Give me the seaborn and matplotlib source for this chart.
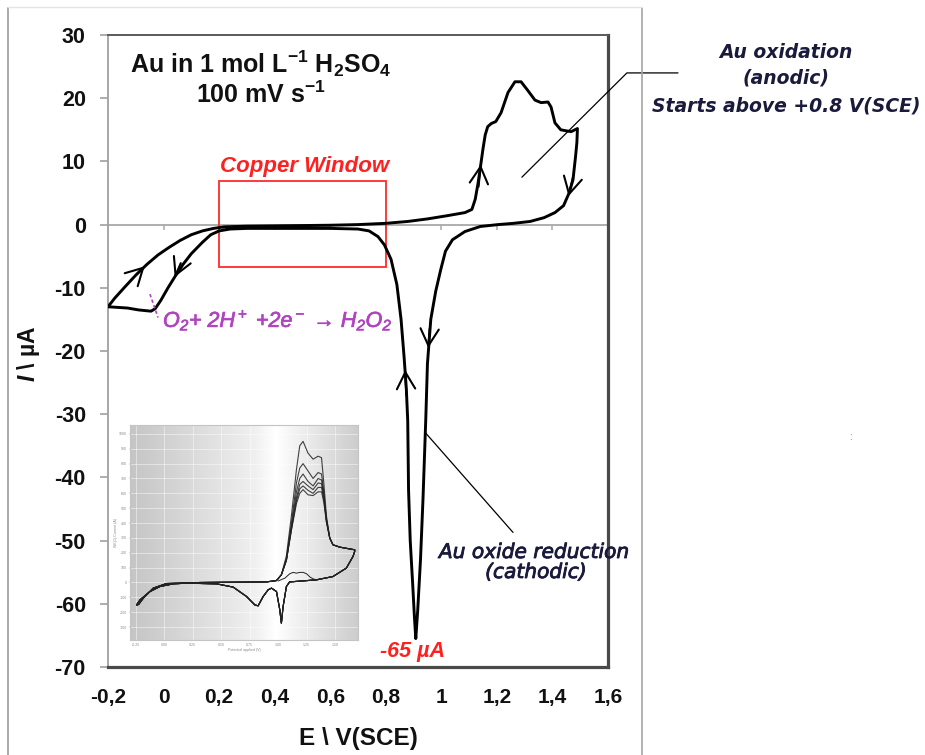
import numpy as np
import pandas as pd
import matplotlib
matplotlib.use("Agg")
import matplotlib.pyplot as plt
import matplotlib.patheffects as pe
import seaborn as sns
from matplotlib.lines import Line2D
from matplotlib.patches import Rectangle

# ---------------- data ----------------
anodic_E = [-0.200, -0.175, -0.140, -0.100, -0.060, -0.020, 0.020, 0.060, 0.100, 0.140,
            0.180, 0.220, 0.300, 0.400, 0.500, 0.600, 0.700, 0.800, 0.880, 0.950,
            1.020, 1.085, 1.110, 1.122, 1.132, 1.142, 1.150, 1.158, 1.167, 1.180,
            1.196, 1.215, 1.240, 1.265, 1.287, 1.310, 1.337, 1.359, 1.384, 1.395,
            1.409, 1.430, 1.467, 1.490]
anodic_I = [-13.0, -11.6, -9.9, -8.0, -6.3, -4.8, -3.6, -2.5, -1.6, -1.0,
            -0.6, -0.35, -0.25, -0.2, -0.15, -0.1, 0.0, 0.2, 0.5, 0.9,
            1.4, 1.9, 2.4, 4.0, 6.5, 9.5, 12.0, 14.2, 15.5, 16.0,
            16.3, 17.7, 20.9, 22.6, 22.6, 21.3, 19.7, 19.3, 19.4, 18.6,
            16.1, 15.0, 14.7, 15.2]

cathodic_E = [1.490, 1.488, 1.483, 1.474, 1.460, 1.440, 1.409, 1.370, 1.320, 1.260,
              1.204, 1.140, 1.085, 1.040, 1.015, 0.998, 0.980, 0.962, 0.950, 0.944,
              0.934, 0.925, 0.915, 0.908, 0.903, 0.897, 0.888, 0.882, 0.879, 0.874,
              0.866, 0.855, 0.840, 0.819, 0.795, 0.772, 0.740, 0.700, 0.600, 0.500,
              0.400, 0.300, 0.240, 0.200, 0.170, 0.140, 0.100, 0.070, 0.040, 0.016,
              -0.010, -0.030, -0.045, -0.090, -0.130, -0.200]
cathodic_I = [15.2, 13.0, 10.7, 7.1, 5.0, 3.0, 1.9, 1.1, 0.5, 0.2,
              0.0, -0.3, -1.1, -2.4, -4.2, -7.1, -10.5, -15.0, -22.0, -30.8,
              -43.4, -53.0, -61.0, -65.5, -62.0, -57.0, -50.0, -42.0, -31.0, -26.0,
              -21.0, -15.0, -9.5, -5.5, -3.2, -1.9, -1.0, -0.7, -0.6, -0.6,
              -0.6, -0.6, -0.7, -1.0, -1.6, -2.8, -4.6, -6.3, -8.3, -10.0,
              -12.0, -13.3, -13.7, -13.5, -13.2, -13.0]

# sweep-direction chevrons: (tail E, tail I) -> (head E, head I)
arrow_tail_E = [-0.100, 0.062, 1.134, 1.474, 0.958, 0.874]
arrow_tail_I = [-8.0, -6.1, 6.0, 7.5, -16.5, -27.0]
arrow_head_E = [-0.068, 0.040, 1.142, 1.458, 0.953, 0.870]
arrow_head_I = [-6.6, -8.3, 9.5, 4.5, -19.5, -23.0]

x_ticks = [-0.2, 0.0, 0.2, 0.4, 0.6, 0.8, 1.0, 1.2, 1.4, 1.6]
x_tick_labels = ["-0,2", "0", "0,2", "0,4", "0,6", "0,8", "1", "1,2", "1,4", "1,6"]
y_ticks = [30, 20, 10, 0, -10, -20, -30, -40, -50, -60, -70]
y_tick_labels = ["30", "20", "10", "0", "-10", "-20", "-30", "-40", "-50", "-60", "-70"]

copper_window_E = [0.2, 0.8]
copper_window_I = [-6.7, 6.9]
o2_leader_E = [-0.049, -0.020]
o2_leader_I = [-11.0, -14.7]
ox_leader_E = [1.290, 1.668, 1.852]
ox_leader_I = [7.5, 24.0, 24.0]
red_leader_E = [0.940, 1.258]
red_leader_I = [-32.8, -48.7]

# inset (photo of a multi-cycle CV)
inset_anodic_E = [-0.242, -0.212, -0.125, -0.037, 0.080, 0.313, 0.605, 0.897, 0.985]
inset_anodic_I = [-15.1, -11.7, -6.1, -2.7, -0.9, 0.0, 0.2, 0.4, 1.3]
inset_peak_E = [1.028, 1.072, 1.116, 1.160, 1.189, 1.218, 1.262, 1.306, 1.350, 1.380,
                1.400, 1.423, 1.452]
inset_cycles_I = [
    [5.2, 18, 45, 76, 92, 95, 87, 83, 85, 84, 67, 45, 30],
    [5.2, 16, 40, 67, 77, 80, 75, 70, 74, 73, 61, 43, 30],
    [5.2, 15, 38, 61, 70, 73, 68, 65, 70, 69, 59, 42, 30],
    [5.2, 15, 36, 57, 66, 68, 65, 62.5, 67, 66.5, 57.5, 42, 30],
    [5.2, 15, 36, 55, 63, 65, 62, 60, 64, 64, 56, 41, 30],
    [5.2, 15, 35, 53, 60, 62.5, 59, 58.5, 61, 61, 54, 40.5, 30],
]
inset_tail_E = [1.480, 1.540, 1.671]
inset_tail_I = [25.4, 23.8, 22.0]
inset_cathodic_E = [1.671, 1.656, 1.598, 1.480, 1.335, 1.189, 1.100, 1.072, 1.043, 1.028,
                    1.014, 0.985, 0.941, 0.912, 0.868, 0.824, 0.795, 0.722, 0.605, 0.459,
                    0.167, 0.021, -0.096, -0.183, -0.225, -0.242]
inset_cathodic_I = [20.9, 17.5, 9.7, 4.0, 1.8, 0.9, 0.4, -2.7, -16.2, -27.4,
                    -18.4, -6.1, -3.8, -4.9, -9.4, -15.7, -15.1, -9.4, -3.1, -0.9,
                    -0.4, -0.7, -3.8, -10.5, -14.8, -15.1]
inset_first_E = [1.00, 1.06, 1.10, 1.13, 1.16, 1.19, 1.22, 1.25, 1.28, 1.31, 1.35]
inset_first_I = [1.0, 3.0, 5.8, 6.8, 6.3, 6.8, 6.8, 5.8, 3.6, 2.3, 1.8]

# ---------------- style ----------------
sns.set_theme(style="white")
plt.rcParams["font.family"] = ["Liberation Sans", "DejaVu Sans"]
plt.rcParams["mathtext.fontset"] = "custom"
plt.rcParams["mathtext.default"] = "regular"
plt.rcParams["mathtext.it"] = "Liberation Sans:italic:bold"
plt.rcParams["axes.unicode_minus"] = False

W, H = 925, 755
fig = plt.figure(figsize=(W / 100, H / 100), dpi=100)
fig.patch.set_facecolor("white")


def fx(px):
    return px / W


def fy(py):
    return 1 - py / H


ax = fig.add_axes([fx(108), fy(667), 500 / W, 632 / H])
ax.set_facecolor("white")

# outer frame of the original picture
fig.add_artist(Line2D([fx(8), fx(8)], [fy(8), 0], color="#9c9c9c", lw=1.2))
fig.add_artist(Line2D([fx(642), fx(642)], [fy(8), 0], color="#a4a4a4", lw=1.2))
fig.add_artist(Line2D([fx(8), fx(642)], [fy(7), fy(7)], color="#e4e4e4", lw=1.0))

# zero line with its ticks
ax.axhline(0, color="#a8a8a8", lw=1.3, zorder=1)
ax.vlines(x_ticks, -0.9, 0, color="#a8a8a8", lw=1.1, zorder=1)

# the voltammogram
cv = pd.DataFrame({
    "E": anodic_E + cathodic_E,
    "I": anodic_I + cathodic_I,
})
sns.lineplot(data=cv, x="E", y="I", sort=False, estimator=None, color="black",
             lw=2.1, ax=ax, zorder=3)

for te, ti, he, hi in zip(arrow_tail_E, arrow_tail_I, arrow_head_E, arrow_head_I):
    ax.annotate("", xy=(he, hi), xytext=(te, ti),
                arrowprops=dict(arrowstyle="->,head_length=0.55,head_width=0.3",
                                lw=1.5, color="black", shrinkA=0, shrinkB=0,
                                mutation_scale=22), zorder=4)

ax.set_xlim(-0.2, 1.6)
ax.set_ylim(-70, 30)
ax.set_xticks(x_ticks, x_tick_labels)
ax.set_yticks(y_ticks, y_tick_labels)
ax.tick_params(axis="x", length=0, pad=15, labelsize=15)
ax.tick_params(axis="y", left=True, length=6, width=1.2, color="#a0a0a0",
               direction="out", pad=10, labelsize=15.5)
for lab in ax.get_xticklabels() + ax.get_yticklabels():
    lab.set_fontweight("bold")
    lab.set_color("#111111")

ax.spines["left"].set_color("#a0a0a0")
ax.spines["left"].set_linewidth(1.3)
ax.spines["top"].set_color("#5a5a5a")
ax.spines["top"].set_linewidth(1.4)
for s in ("right", "bottom"):
    ax.spines[s].set_color("#4a4a4a")
    ax.spines[s].set_linewidth(2.3)

ax.set_xlabel("E \\ V(SCE)", fontsize=17.5, fontweight="bold", color="#111111")
ax.xaxis.set_label_coords(0.5, (667 - 738) / 632)
ax.xaxis.label.set_va("center")
ax.set_ylabel(r"$\mathit{I}$ \ µA", fontsize=16.5, fontweight="bold", color="#111111")
ax.yaxis.set_label_coords((29 - 108) / 500, (667 - 354) / 632)
ax.yaxis.label.set_va("center")

# copper window
ax.add_patch(Rectangle((copper_window_E[0], copper_window_I[0]),
                       copper_window_E[1] - copper_window_E[0],
                       copper_window_I[1] - copper_window_I[0],
                       fill=False, ec="#ff2a2a", lw=1.3, zorder=2))
fig.text(fx(305), fy(172), "Copper Window", color="#ff2020", fontsize=16,
         fontweight="bold", style="italic", ha="center", va="baseline")

# title
fig.text(fx(261), fy(73), "Au in 1 mol L$^{-1}$ H$_2$SO$_4$", fontsize=18,
         fontweight="bold", ha="center", va="baseline", color="#111111")
fig.text(fx(261), fy(103), "100 mV s$^{-1}$", fontsize=18,
         fontweight="bold", ha="center", va="baseline", color="#111111")

# O2 reduction
purple = "#b044c0"
ax.plot(o2_leader_E, o2_leader_I, color=purple, lw=1.2, ls=(0, (2, 1.5)), zorder=4)
fig.text(fx(163), fy(327), "O$_2$+ 2H$^+$ +2e$^-$ → H$_2$O$_2$", color=purple,
         fontsize=15.5, style="italic", ha="left", va="baseline",
         path_effects=[pe.withStroke(linewidth=0.5, foreground=purple)])

# anodic annotation
ax.plot(ox_leader_E, ox_leader_I, color="black", lw=0.9, clip_on=False, zorder=4)
navy = "#1a1a3c"
for txt, yb in (("Au oxidation", 58), ("(anodic)", 84), ("Starts above +0.8 V(SCE)", 111)):
    fig.text(fx(786), fy(yb), txt, color=navy, fontsize=13.5, fontweight="bold",
             style="italic", family="DejaVu Sans", ha="center", va="baseline")

# cathodic annotation
ax.plot(red_leader_E, red_leader_I, color="black", lw=0.9, zorder=4)
thick = [pe.withStroke(linewidth=0.6, foreground=navy)]
fig.text(fx(534), fy(558), "Au oxide reduction", color=navy, fontsize=14.5,
         style="italic", family="DejaVu Sans", ha="center", va="baseline",
         path_effects=thick)
fig.text(fx(536), fy(578), "(cathodic)", color=navy, fontsize=14.5,
         style="italic", family="DejaVu Sans", ha="center", va="baseline",
         path_effects=thick)

fig.text(fx(413), fy(657), "-65 µA", color="#ff2020", fontsize=15.5,
         fontweight="bold", style="italic", ha="center", va="baseline")
fig.text(fx(850), fy(440), ":", color="#b044c0", fontsize=7, ha="center", va="baseline")

# ---------------- inset ----------------
ins = fig.add_axes([fx(130), fy(640), 228 / W, 215 / H])
stops_x = [0.0, 0.55, 0.64, 0.72, 1.0]
stops_v = [0.77, 0.94, 1.0, 0.95, 0.80]
xs = np.linspace(0, 1, 256)
grad = np.tile(np.interp(xs, stops_x, stops_v), (32, 1))
ins.imshow(grad, extent=[0, 1, 0, 1], transform=ins.transAxes, aspect="auto",
           cmap="gray", vmin=0, vmax=1, zorder=0)
inset_ticks_x = [-0.25, 0.0, 0.25, 0.5, 0.75, 1.0, 1.25, 1.5]
inset_ticks_y = [-30, -20, -10, 0, 10, 20, 30, 40, 50, 60, 70, 80, 90, 100]
ins.set_xticks(inset_ticks_x, [f"{v:.2f}" for v in inset_ticks_x])
ins.set_yticks(inset_ticks_y, [f"{v * 10}" for v in inset_ticks_y])
ins.grid(True, color="white", lw=0.6, alpha=0.55)
ins.tick_params(labelsize=2.6, length=1, width=0.3, pad=1, colors="#8a8a8a",
                left=True, bottom=True)
ins.set_ylabel("WE(1).Current (A)", fontsize=2.6, color="#8a8a8a", labelpad=1)
ins.set_xlabel("Potential applied (V)", fontsize=2.6, color="#8a8a8a", labelpad=1)
for s in ins.spines.values():
    s.set_color("#c4c4c4")
    s.set_linewidth(0.8)

for cyc in inset_cycles_I:
    e = inset_anodic_E + inset_peak_E + inset_tail_E + inset_cathodic_E
    i = inset_anodic_I + cyc + inset_tail_I + inset_cathodic_I
    sns.lineplot(x=e, y=i, sort=False, estimator=None, color="#222222", lw=0.8,
                 alpha=0.85, ax=ins)
sns.lineplot(x=inset_first_E, y=inset_first_I, sort=False, estimator=None,
             color="#222222", lw=0.7, ax=ins)
ins.set_xlim(-0.3, 1.7)
ins.set_ylim(-38.7, 106)
ins.set_aspect("auto")

fig.savefig("out.png", dpi=100, facecolor="white")
